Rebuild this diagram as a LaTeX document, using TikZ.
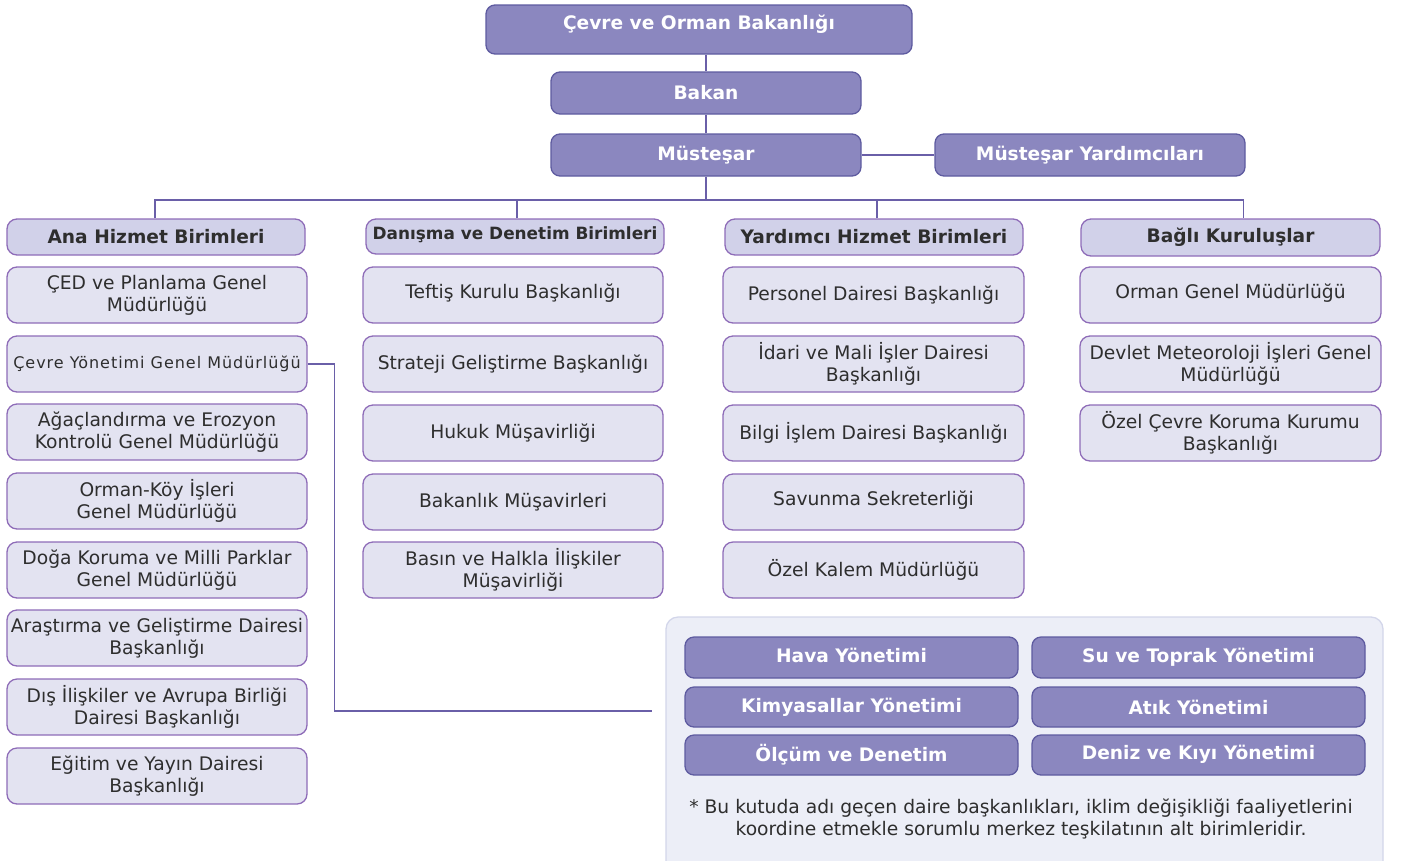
\documentclass[tikz,border=0pt]{standalone}
\usepackage{fontspec}
\setmainfont{DejaVu Sans}
\definecolor{darkF}{HTML}{8B87BF}
\definecolor{darkB}{HTML}{5E5BA0}
\definecolor{lightF}{HTML}{E3E3F1}
\definecolor{lightB}{HTML}{8E6CB8}
\definecolor{headF}{HTML}{D1D1E9}
\definecolor{lineC}{HTML}{6A5FA8}
\definecolor{txtC}{HTML}{2E2E2E}
\definecolor{bigF}{HTML}{ECEEF7}
\definecolor{bigB}{HTML}{D3D6EA}
\newcommand\fs[1]{\fontsize{#1}{22}\selectfont}
\tikzset{
  dark/.style={draw=darkB, fill=darkF, rounded corners=9pt, text=white, font=\bfseries\fs{18.6}, line width=1.3pt, align=center, inner sep=0pt},
  light/.style={draw=lightB, fill=lightF, rounded corners=10pt, text=txtC, font=\fs{18.7}, line width=1.3pt, align=center, inner sep=0pt},
  head/.style={light, fill=headF, font=\bfseries\fs{18.6}},
  conn/.style={draw=lineC, line width=1.3pt},
}
\newcommand\bx[7]{\node[#1, minimum width={(#5-#3)*1pt}, minimum height={(#6-#4)*1pt}] (#2) at ({(#3+#5)/2},{(#4+#6)/2}) {#7};}
\begin{document}
\begin{tikzpicture}[x=1pt,y=-1pt]
\useasboundingbox (0,0) rectangle (1405,860);
% big background box
\node[draw=bigB, fill=bigF, rounded corners=12pt, line width=1.3pt, minimum width=717pt, minimum height=260pt, inner sep=0pt] (big) at (1024.5,747) {};
% top
\bx{dark, text depth=14pt}{top}{486}{5}{912}{54}{Çevre ve Orman Bakanlığı}
\bx{dark}{bakan}{551}{72}{861}{114}{Bakan}
\bx{dark}{mus}{551}{134}{861}{176}{Müsteşar}
\bx{dark}{yard}{935}{134}{1245}{176}{Müsteşar Yardımcıları}
% headers
\bx{head}{h1}{7}{219}{305}{255}{Ana Hizmet Birimleri}
\bx{head, font=\bfseries\fs{16.9}, text depth=6pt}{h2}{366}{219}{664}{254}{Danışma ve Denetim Birimleri}
\bx{head}{h3}{725}{219}{1023}{255}{Yardımcı Hizmet Birimleri}
\bx{head, text depth=4pt}{h4}{1081}{219}{1380}{256}{Bağlı Kuruluşlar}
% column 1
\bx{light}{a1}{7}{267}{307}{323}{ÇED ve Planlama Genel\\Müdürlüğü}
\bx{light, font=\fs{16}\addfontfeature{LetterSpace=6}}{a2}{7}{336}{307}{392}{Çevre Yönetimi Genel Müdürlüğü}
\bx{light}{a3}{7}{404}{307}{460}{Ağaçlandırma ve Erozyon\\Kontrolü Genel Müdürlüğü}
\bx{light}{a4}{7}{473}{307}{529}{Orman-Köy İşleri\\Genel Müdürlüğü}
\bx{light}{a5}{7}{542}{307}{598}{Doğa Koruma ve Milli Parklar\\Genel Müdürlüğü}
\bx{light}{a6}{7}{610}{307}{666}{Araştırma ve Geliştirme Dairesi\\Başkanlığı}
\bx{light}{a7}{7}{679}{307}{735}{Dış İlişkiler ve Avrupa Birliği\\Dairesi Başkanlığı}
\bx{light}{a8}{7}{748}{307}{804}{Eğitim ve Yayın Dairesi\\Başkanlığı}
% column 2
\bx{light, text depth=8pt}{b1}{363}{267}{663}{323}{Teftiş Kurulu Başkanlığı}
\bx{light}{b2}{363}{336}{663}{392}{Strateji Geliştirme Başkanlığı}
\bx{light}{b3}{363}{405}{663}{461}{Hukuk Müşavirliği}
\bx{light}{b4}{363}{474}{663}{530}{Bakanlık Müşavirleri}
\bx{light}{b5}{363}{542}{663}{598}{Basın ve Halkla İlişkiler\\Müşavirliği}
% column 3
\bx{light}{c1}{723}{267}{1024}{323}{Personel Dairesi Başkanlığı}
\bx{light}{c2}{723}{336}{1024}{392}{İdari ve Mali İşler Dairesi\\Başkanlığı}
\bx{light}{c3}{723}{405}{1024}{461}{Bilgi İşlem Dairesi Başkanlığı}
\bx{light, text depth=8pt}{c4}{723}{474}{1024}{530}{Savunma Sekreterliği}
\bx{light}{c5}{723}{542}{1024}{598}{Özel Kalem Müdürlüğü}
% column 4
\bx{light, text depth=8pt}{d1}{1080}{267}{1381}{323}{Orman Genel Müdürlüğü}
\bx{light}{d2}{1080}{336}{1381}{392}{Devlet Meteoroloji İşleri Genel\\Müdürlüğü}
\bx{light}{d3}{1080}{405}{1381}{461}{Özel Çevre Koruma Kurumu\\Başkanlığı}
% inner boxes
\bx{dark, text depth=5pt}{e1}{685}{637}{1018}{678}{Hava Yönetimi}
\bx{dark, text depth=5pt}{e2}{1032}{637}{1365}{678}{Su ve Toprak Yönetimi}
\bx{dark}{e3}{685}{687}{1018}{727}{Kimyasallar Yönetimi}
\bx{dark}{e4}{1032}{687}{1365}{727}{Atık Yönetimi}
\bx{dark, text depth=5pt}{e5}{685}{735}{1018}{775}{Ölçüm ve Denetim}
\bx{dark, text depth=5pt}{e6}{1032}{735}{1365}{775}{Deniz ve Kıyı Yönetimi}
\node[text=txtC, font=\fs{18.7}, align=center, inner sep=0pt] (note) at (1021,819) {* Bu kutuda adı geçen daire başkanlıkları, iklim değişikliği faaliyetlerini\\koordine etmekle sorumlu merkez teşkilatının alt birimleridir.};
% connectors
\coordinate (bus) at (706,200);
\coordinate (cyEnd) at (652,711);
\draw[conn] (bakan.north) -- (bakan.north |- top.south);
\draw[conn] (mus.north) -- (mus.north |- bakan.south);
\draw[conn] (mus.east) -- (yard.west);
\draw[conn] (mus.south) -- (bus);
\draw[conn] ([xshift=-1pt]h1.north) |- (bus) -| ([xshift=13pt]h4.north);
\draw[conn] ([xshift=2pt]h2.north) -- ([xshift=2pt]h2.north |- bus);
\draw[conn] ([xshift=3pt]h3.north) -- ([xshift=3pt]h3.north |- bus);
\draw[conn] (a2.east) -- ++(27,0) |- (cyEnd);
\end{tikzpicture}
\end{document}
